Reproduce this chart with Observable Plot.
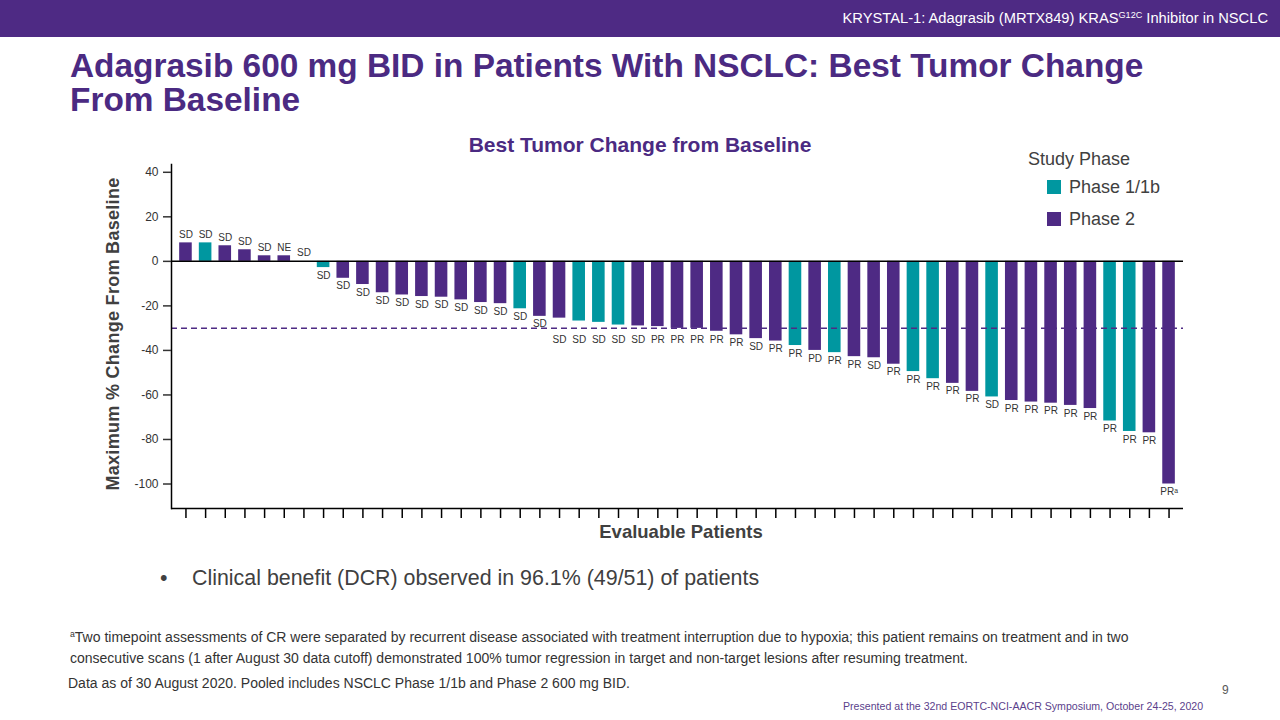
<!DOCTYPE html>
<html><head><meta charset="utf-8">
<script src="https://cdn.jsdelivr.net/npm/d3@7"></script>
<script src="https://cdn.jsdelivr.net/npm/@observablehq/plot@0.6"></script>
<style>
body{margin:0;width:1280px;height:720px;position:relative;overflow:hidden;background:#fff;font-family:"Liberation Sans",Arial,Helvetica,sans-serif;}
.abs{position:absolute;white-space:nowrap;}
#chart{position:absolute;left:0;top:120px;}
sup{font-size:62%;vertical-align:baseline;position:relative;top:-0.55em;}
</style></head><body>
<div class="abs" style="left:0;top:0;width:1280px;height:37px;background:#4e2a84;"></div>
<div class="abs" style="right:12px;top:9px;font-size:14.7px;line-height:18px;color:#fff;">KRYSTAL-1: Adagrasib (MRTX849) KRAS<sup>G12C</sup> Inhibitor in NSCLC</div>
<div class="abs" style="left:70px;top:49px;font-size:33.4px;line-height:34px;font-weight:bold;color:#4b2a82;">Adagrasib 600 mg BID in Patients With NSCLC: Best Tumor Change<br>From Baseline</div>
<div id="chart"></div>
<div class="abs" style="left:390px;width:500px;text-align:center;top:134px;font-size:21px;line-height:22px;font-weight:bold;color:#4b2a82;">Best Tumor Change from Baseline</div>
<div class="abs" style="left:-87px;width:400px;text-align:center;top:323px;height:22px;font-size:18px;line-height:22px;font-weight:bold;color:#404040;transform:rotate(-90deg);letter-spacing:0.3px;">Maximum % Change From Baseline</div>
<div class="abs" style="left:481px;width:400px;text-align:center;top:521px;font-size:18.5px;line-height:22px;font-weight:bold;color:#404040;">Evaluable Patients</div>
<div id="legend"></div>
<div class="abs" style="left:160px;top:566px;font-size:21.4px;line-height:24px;color:#404040;">•</div>
<div class="abs" style="left:192px;top:566px;font-size:21.4px;line-height:24px;color:#404040;">Clinical benefit (DCR) observed in 96.1% (49/51) of patients</div>
<div class="abs" style="left:70px;top:628px;font-size:14px;line-height:19px;color:#333;"><sup>a</sup>Two timepoint assessments of CR were separated by recurrent disease associated with treatment interruption due to hypoxia; this patient remains on treatment and in two<br>consecutive scans (1 after August 30 data cutoff) demonstrated 100% tumor regression in target and non-target lesions after resuming treatment.</div>
<div class="abs" style="left:68px;top:674px;font-size:14px;line-height:19px;color:#333;">Data as of 30 August 2020. Pooled includes NSCLC Phase 1/1b and Phase 2 600 mg BID.</div>
<div class="abs" style="left:1222px;top:682px;font-size:12px;line-height:16px;color:#595959;">9</div>
<div class="abs" style="left:843px;top:699px;font-size:10.6px;line-height:14px;color:#5b3f8c;">Presented at the 32nd EORTC-NCI-AACR Symposium, October 24-25, 2020</div>
<script>
const PURPLE = "#4e2a84";
const TEAL = "#0097a0";

const patients = ["P1","P2","P3","P4","P5","P6","P7","P8","P9","P10","P11","P12","P13","P14","P15","P16","P17","P18","P19","P20","P21","P22","P23","P24","P25","P26","P27","P28","P29","P30","P31","P32","P33","P34","P35","P36","P37","P38","P39","P40","P41","P42","P43","P44","P45","P46","P47","P48","P49","P50","P51"];
const changes = [8.3, 8.3, 7.0, 5.2, 2.5, 2.5, 0, -2.8, -7.6, -10.4, -14.1, -15.1, -15.8, -16.1, -17.3, -18.5, -19.0, -21.3, -24.7, -25.5, -26.8, -27.4, -28.6, -29.0, -29.3, -30.1, -30.1, -31.4, -33.0, -34.7, -35.8, -37.8, -40.0, -41.0, -42.8, -43.3, -46.2, -49.5, -52.7, -54.8, -58.4, -60.9, -62.5, -63.2, -63.7, -64.7, -66.1, -71.7, -76.4, -77.0, -100];
const responses = ["SD","SD","SD","SD","SD","NE","SD","SD","SD","SD","SD","SD","SD","SD","SD","SD","SD","SD","SD","SD","SD","SD","SD","SD","PR","PR","PR","PR","PR","SD","PR","PR","PD","PR","PR","SD","PR","PR","PR","PR","PR","SD","PR","PR","PR","PR","PR","PR","PR","PR","PRᵃ"];
const phases = ["Phase 2","Phase 1/1b","Phase 2","Phase 2","Phase 2","Phase 2","Phase 2","Phase 1/1b","Phase 2","Phase 2","Phase 2","Phase 2","Phase 2","Phase 2","Phase 2","Phase 2","Phase 2","Phase 1/1b","Phase 2","Phase 2","Phase 1/1b","Phase 1/1b","Phase 1/1b","Phase 2","Phase 2","Phase 2","Phase 2","Phase 2","Phase 2","Phase 2","Phase 2","Phase 1/1b","Phase 2","Phase 1/1b","Phase 2","Phase 2","Phase 2","Phase 1/1b","Phase 1/1b","Phase 2","Phase 2","Phase 1/1b","Phase 2","Phase 2","Phase 2","Phase 2","Phase 2","Phase 1/1b","Phase 1/1b","Phase 2","Phase 2"];
const phaseNames = ["Phase 1/1b","Phase 2"];
const yTicks = [40, 20, 0, -20, -40, -60, -80, -100];
const threshold = -30;

const rows = patients.map((p, i) => ({patient: p, change: changes[i], response: responses[i], phase: phases[i]}));
// labels that would collide with the dashed threshold line are moved below it
const labelY = d => (d.change <= -25 && d.change > -31.5) ? -31.5 : d.change;

const chart = Plot.plot({
  width: 1280, height: 440,
  marginLeft: 171, marginRight: 97, marginTop: 44, marginBottom: 52,
  x: {type: "band", domain: patients, paddingInner: 0.36, paddingOuter: 0.415},
  y: {domain: [-111, 43.5]},
  color: {domain: phaseNames, range: [TEAL, PURPLE]},
  style: {fontFamily: '"Liberation Sans", Arial, sans-serif', background: "transparent", overflow: "visible"},
  marks: [
    Plot.barY(rows, {x: "patient", y: "change", fill: "phase"}),
    Plot.ruleY([threshold], {stroke: PURPLE, strokeWidth: 1.5, strokeDasharray: "6,4"}),
    Plot.ruleY([0], {stroke: "#000", strokeWidth: 1.5}),
    Plot.ruleY([-111], {stroke: "#000", strokeWidth: 1.5}),
    Plot.frame({anchor: "left", stroke: "#000", strokeWidth: 1.5}),
    Plot.axisY({ticks: yTicks, tickSize: 8, tickPadding: 5, fontSize: 12, label: null, tickFormat: d => String(d), color: "#333", strokeWidth: 1.5}),
    Plot.axisX({tickSize: 10, tickFormat: () => "", label: null, anchor: "bottom", strokeWidth: 1.5, stroke: "#000"}),
    Plot.text(rows.filter(d => d.change >= 0), {x: "patient", y: "change", text: "response", lineAnchor: "bottom", dy: -5, fontSize: 10, fill: "#333"}),
    Plot.text(rows.filter(d => d.change < 0), {x: "patient", y: labelY, text: "response", lineAnchor: "top", dy: 4, fontSize: 10, fill: "#333"})
  ]
});
document.getElementById("chart").appendChild(chart);

// legend
const legend = document.getElementById("legend");
const mk = (html) => { const d = document.createElement("div"); d.className = "abs"; d.innerHTML = html; legend.appendChild(d); return d; };
mk('<div style="position:absolute;left:1028px;top:150px;font-size:18px;line-height:18px;color:#404040;white-space:nowrap;">Study Phase</div>');
phaseNames.forEach((name, i) => {
  const top = 180 + i * 32;
  const col = chart.scale("color").apply(name);
  mk(`<div style="position:absolute;left:1047px;top:${top}px;width:14px;height:14px;background:${col};"></div>` +
     `<div style="position:absolute;left:1069px;top:${top - 3}px;font-size:18px;line-height:20px;color:#404040;white-space:nowrap;">${name}</div>`);
});
</script>
</body></html>
